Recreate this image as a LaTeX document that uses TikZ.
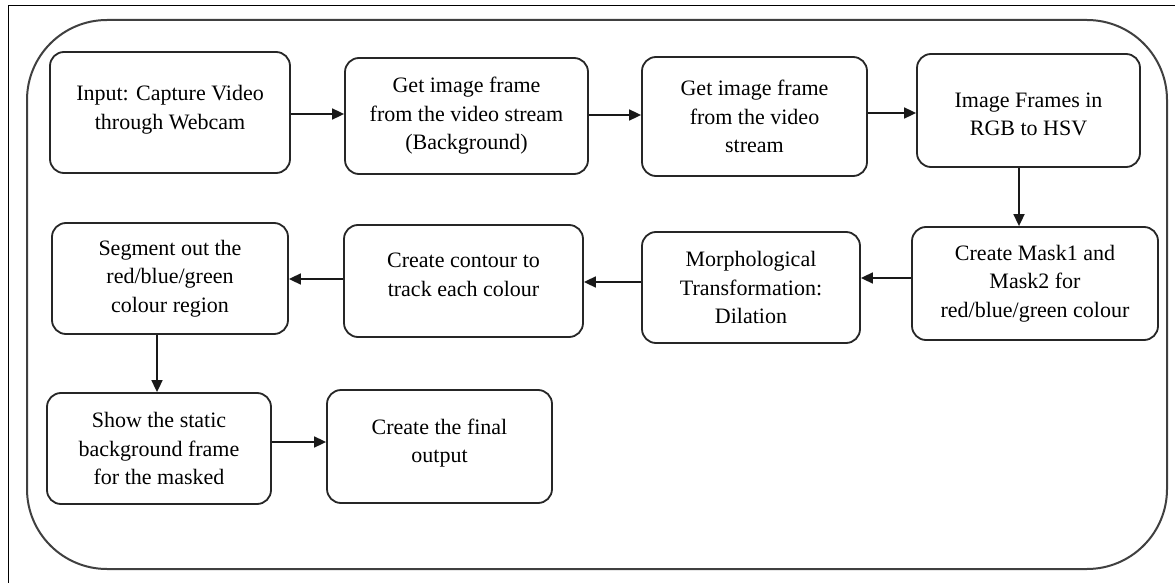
\documentclass[tikz,border=0pt]{standalone}
\usepackage{fontspec}
\setmainfont{Liberation Serif}
\usetikzlibrary{arrows.meta,calc}
\begin{document}
\begin{tikzpicture}[x=1pt,y=-1pt,
  txt/.style={align=center,font=\fontsize{22}{28.5}\selectfont,inner sep=0pt},
  stepbox/.style={draw=black!85,line width=1.8pt,rounded corners=14pt,txt},
  arr/.style={draw=black!90,line width=1.7pt,-{Triangle[length=12pt,width=11pt]}}]
\useasboundingbox (0,0) rectangle (1175,583);
\fill[white] (0,0) rectangle (1175,583);
% outer frame (cropped)
\draw[line width=1pt] (8,583) -- (8,6) -- (1175,6);
% rounded container
\draw[black!75,line width=2pt,rounded corners=80pt] (27,20) rectangle (1167,569);
% boxes
\node[stepbox,minimum width=240pt,minimum height=121pt,
  label={[txt,yshift=3pt]center:{Input: Capture Video\\through Webcam}}] (b1) at (170,112.5) {};
\node[stepbox,minimum width=243pt,minimum height=116pt] (b2) at (466.5,116) {Get image frame\\from the video stream\\(Background)};
\node[stepbox,minimum width=225pt,minimum height=119pt] (b3) at (754.5,116.5) {Get image frame\\from the video\\stream};
\node[stepbox,minimum width=223pt,minimum height=113pt,
  label={[txt,yshift=-4pt]center:{Image Frames in\\RGB to HSV}}] (b4) at (1028.5,110.5) {};
\node[stepbox,minimum width=246pt,minimum height=113pt] (b5) at (1035,283.5) {Create Mask1 and\\Mask2 for\\red/blue/green colour};
\node[stepbox,minimum width=218pt,minimum height=111pt] (b6) at (751,287.5) {Morphological\\Transformation:\\Dilation};
\node[stepbox,minimum width=239pt,minimum height=112pt,
  label={[txt,yshift=6pt]center:{Create contour to\\track each colour}}] (b7) at (463.5,281) {};
\node[stepbox,minimum width=236pt,minimum height=111pt] (b8) at (170,278.5) {Segment out the\\red/blue/green\\colour region};
\node[stepbox,minimum width=224pt,minimum height=111pt] (b9) at (159,448.5) {Show the static\\background frame\\for the masked};
\node[stepbox,minimum width=225pt,minimum height=113pt,
  label={[txt,yshift=3.5pt]center:{Create the final\\output}}] (b10) at (439.5,446.5) {};
% connector start points
\coordinate (s1) at ($(b1.east)+(0,1.5)$);
\coordinate (s2) at ($(b2.east)+(0,-1)$);
\coordinate (s3) at ($(b3.east)+(0,-3.5)$);
\coordinate (s4) at ($(b4.south)+(-9.5,0)$);
\coordinate (s5) at ($(b5.west)+(0,-5.5)$);
\coordinate (s6) at ($(b6.west)+(0,-5.5)$);
\coordinate (s7) at ($(b7.west)+(0,-2)$);
\coordinate (s8) at ($(b8.south)+(-13,0)$);
\coordinate (s9) at ($(b9.east)+(0,-6.5)$);
% connectors
\draw[arr] (s1) -- (s1 -| b2.west);
\draw[arr] (s2) -- (s2 -| b3.west);
\draw[arr] (s3) -- (s3 -| b4.west);
\draw[arr] (s4) -- (s4 |- b5.north);
\draw[arr] (s5) -- (s5 -| b6.east);
\draw[arr] (s6) -- (s6 -| b7.east);
\draw[arr] (s7) -- (s7 -| b8.east);
\draw[arr] (s8) -- (s8 |- b9.north);
\draw[arr] (s9) -- (s9 -| b10.west);
\end{tikzpicture}
\end{document}
